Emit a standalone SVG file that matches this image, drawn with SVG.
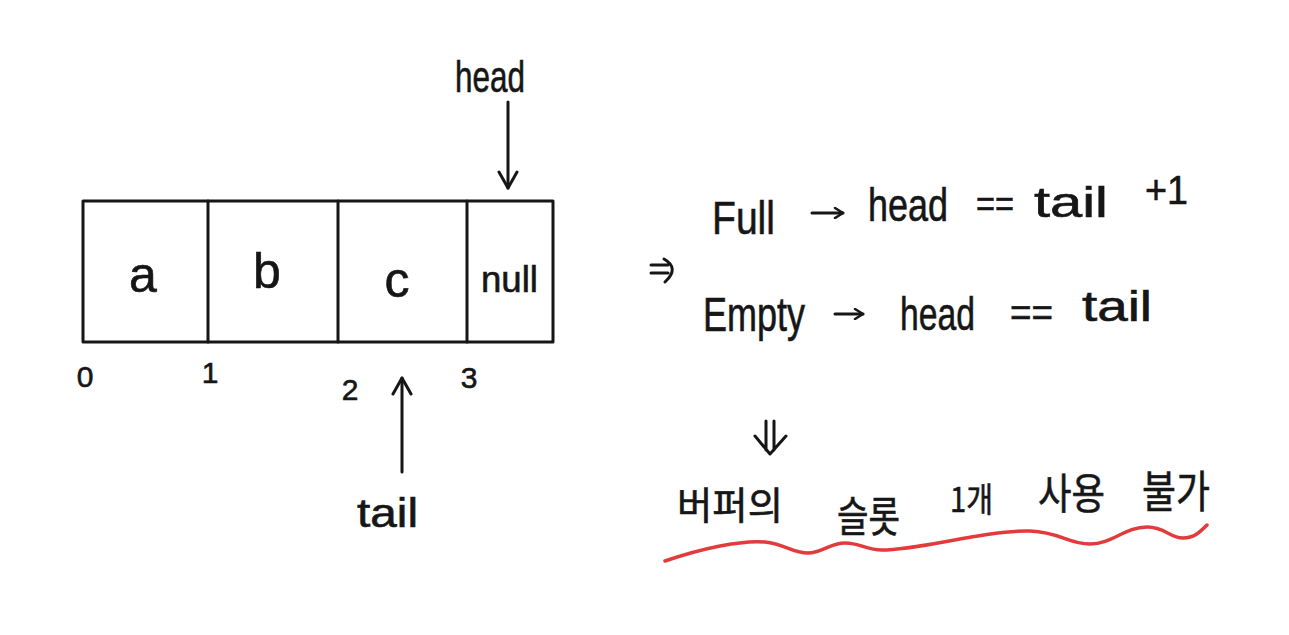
<svg xmlns="http://www.w3.org/2000/svg" width="1289" height="635" viewBox="0 0 1289 635">
  <style>
    .ln { fill: none; stroke: #161616; stroke-width: 3; stroke-linecap: round; stroke-linejoin: round; }
    .txt { font-family: "Liberation Sans", "DejaVu Sans", sans-serif; fill: #161616; stroke: #161616; stroke-width: 0.6; }
    .ko { font-family: "Noto Sans CJK KR", "Noto Sans", sans-serif; fill: #161616; stroke: #161616; stroke-width: 0.6; }
    .cell { font-size: 50px; text-anchor: middle; }
    .idx { font-size: 30px; text-anchor: middle; }
    .wave { fill: none; stroke: #e23b3b; stroke-width: 3.5; stroke-linecap: round; }
  </style>
  <defs>
    <marker id="ah" viewBox="0 0 12 12" refX="10" refY="6" markerWidth="12" markerHeight="12" markerUnits="userSpaceOnUse" orient="auto">
      <path d="M2,1 L10,6 L2,11" fill="none" stroke="#161616" stroke-width="2.5" stroke-linecap="round" stroke-linejoin="round"/>
    </marker>
    <marker id="ahBig" viewBox="0 0 22 22" refX="19" refY="11" markerWidth="22" markerHeight="22" markerUnits="userSpaceOnUse" orient="auto">
      <path d="M3,2 L19,11 L3,20" fill="none" stroke="#161616" stroke-width="3" stroke-linecap="round" stroke-linejoin="round"/>
    </marker>
  </defs>
  <rect width="1289" height="635" fill="#ffffff"/>

  <g id="buffer">
    <rect class="ln" x="83" y="201" width="470" height="141"/>
    <line class="ln" x1="208" y1="201" x2="208" y2="342"/>
    <line class="ln" x1="338" y1="201" x2="338" y2="342"/>
    <line class="ln" x1="467" y1="201" x2="467" y2="342"/>
  </g>
  <g id="cell-a"><text class="txt cell" x="143" y="292">a</text></g>
  <g id="cell-b"><text class="txt cell" x="267" y="288">b</text></g>
  <g id="cell-c"><text class="txt cell" x="397" y="297">c</text></g>
  <g id="cell-null"><text class="txt" x="481" y="292" font-size="36" textLength="57" lengthAdjust="spacingAndGlyphs">null</text></g>

  <g id="indices">
    <text class="txt idx" x="85" y="387">0</text>
    <text class="txt idx" x="210" y="383">1</text>
    <text class="txt idx" x="350" y="400" font-size="34">2</text>
    <text class="txt idx" x="469" y="388" font-size="32">3</text>
  </g>

  <g id="head-label"><text class="txt" x="455" y="92" font-size="44" textLength="70" lengthAdjust="spacingAndGlyphs">head</text></g>
  <g id="tail-label"><text class="txt" x="357" y="527" font-size="40" textLength="61" lengthAdjust="spacingAndGlyphs">tail</text></g>

  <g id="connectors">
    <line class="ln" x1="508" y1="102" x2="508" y2="188" marker-end="url(#ahBig)"/>
    <line class="ln" x1="402" y1="472" x2="402" y2="378" marker-end="url(#ahBig)"/>
    <line class="ln" x1="812" y1="213" x2="843" y2="213" marker-end="url(#ah)"/>
    <line class="ln" x1="835" y1="314" x2="863" y2="314" marker-end="url(#ah)"/>
    <path class="ln" d="M651,265 L668,265 M651,273 L668,273 M664,259 Q680,268 665,282"/>
    <path class="ln" d="M766,421 L766,450 M774,421 L774,450 M755,436 L770,454 L786,436"/>
  </g>

  <g id="full-rule">
    <text class="txt" x="712" y="234" font-size="46" textLength="63" lengthAdjust="spacingAndGlyphs">Full</text>
    <text class="txt" x="868" y="221" font-size="46" textLength="80" lengthAdjust="spacingAndGlyphs">head</text>
    <text class="txt" x="976" y="216" font-size="36" textLength="38" lengthAdjust="spacingAndGlyphs">==</text>
    <text class="txt" x="1034" y="217" font-size="42" textLength="74" lengthAdjust="spacingAndGlyphs">tail</text>
    <text class="txt" x="1145" y="204" font-size="40" textLength="43" lengthAdjust="spacingAndGlyphs">+1</text>
  </g>

  <g id="empty-rule">
    <text class="txt" x="703" y="331" font-size="48" textLength="102" lengthAdjust="spacingAndGlyphs">Empty</text>
    <text class="txt" x="900" y="330" font-size="46" textLength="75" lengthAdjust="spacingAndGlyphs">head</text>
    <text class="txt" x="1010" y="326" font-size="38" textLength="43" lengthAdjust="spacingAndGlyphs">==</text>
    <text class="txt" x="1082" y="321" font-size="42" textLength="70" lengthAdjust="spacingAndGlyphs">tail</text>
  </g>

  <g id="conclusion">
    <text class="ko" x="677" y="519" font-size="38" textLength="106" lengthAdjust="spacingAndGlyphs">버퍼의</text>
    <text class="ko" x="837" y="532" font-size="42" textLength="63" lengthAdjust="spacingAndGlyphs">슬롯</text>
    <text class="ko" x="950" y="512" font-size="34" textLength="43" lengthAdjust="spacingAndGlyphs">1개</text>
    <text class="ko" x="1038" y="509" font-size="42" textLength="67" lengthAdjust="spacingAndGlyphs">사용</text>
    <text class="ko" x="1142" y="508" font-size="44" textLength="68" lengthAdjust="spacingAndGlyphs">불가</text>
  </g>

  <g id="underline">
    <path class="wave" d="M665,561 C700,549 740,540 765,542 C785,544 792,553 808,553 C822,553 830,543 845,543 C860,543 866,550 882,550 C920,550 985,530 1030,531 C1060,532 1068,544 1090,544 C1112,544 1125,527 1147,527 C1165,527 1170,538 1183,538 C1195,538 1202,530 1207,525"/>
  </g>
</svg>
